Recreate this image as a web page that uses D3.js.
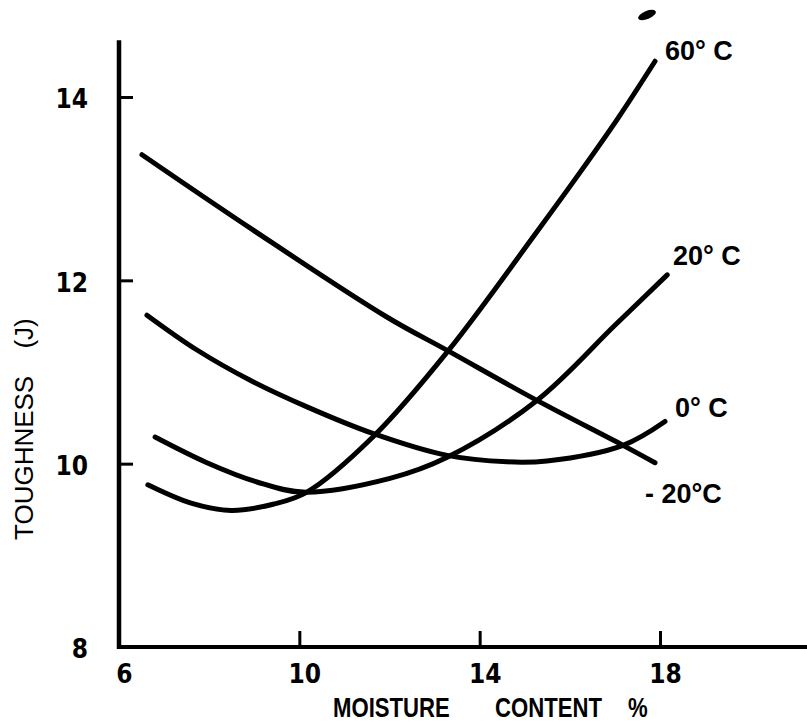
<!DOCTYPE html>
<html>
<head>
<meta charset="utf-8">
<script src="https://cdn.jsdelivr.net/npm/d3@7"></script>
<style>
  body { margin: 0; background: #fff; }
  svg { display: block; }
</style>
</head>
<body>
<div id="chart"></div>
<script>
// chart values
var xTicks = [6, 10, 14, 18];
var yTicks = [8, 10, 12, 14];

var moist60 = [6.64, 7.60, 8.49, 9.44, 10.17, 11.63, 13.30, 15.27, 16.23, 17.07, 17.89];
var tough60 = [9.77, 9.57, 9.49, 9.56, 9.69, 10.29, 11.23, 12.53, 13.18, 13.77, 14.39];

var moist20 = [6.80, 7.95, 9.06, 10.08, 12.01, 13.28, 15.27, 17.00, 18.16];
var tough20 = [10.29, 10.01, 9.80, 9.69, 9.84, 10.07, 10.69, 11.51, 12.06];

var moist0 = [6.62, 7.73, 8.91, 10.17, 11.63, 13.28, 14.61, 15.49, 17.18, 18.11];
var tough0 = [11.62, 11.24, 10.91, 10.62, 10.33, 10.09, 10.02, 10.03, 10.20, 10.46];

var moistM20 = [6.51, 8.97, 11.94, 13.30, 15.27, 17.18, 17.89];
var toughM20 = [13.37, 12.55, 11.60, 11.23, 10.69, 10.20, 10.01];

var curveLabels = ["60° C", "20° C", "0° C", "- 20°C"];
var xTitleWords = ["MOISTURE", "CONTENT", "%"];

var width = 807,
    height = 722;

var svg = d3.select("#chart")
    .append("svg")
      .attr("width", width)
      .attr("height", height);

var x = d3.scaleLinear().domain([6, 18]).range([119, 660]);
var y = d3.scaleLinear().domain([8, 14]).range([647, 97]);

var tickFont = "'Liberation Sans Narrow', 'DejaVu Sans Condensed', 'Liberation Sans', sans-serif";
var labelFont = "'Liberation Sans', Arial, sans-serif";

// axes lines (long, thick)
svg.append("line")
    .attr("x1", x(6)).attr("x2", x(6))
    .attr("y1", y(14.62)).attr("y2", y(8) + 2)
    .attr("stroke", "#000").attr("stroke-width", 4.5);

svg.append("line")
    .attr("x1", x(6) - 2).attr("x2", x(21.3))
    .attr("y1", y(8)).attr("y2", y(8))
    .attr("stroke", "#000").attr("stroke-width", 4);

// x axis ticks + labels
var xAxis = d3.axisBottom(x)
    .tickValues(xTicks)
    .tickSize(-16)
    .tickPadding(18)
    .tickFormat(d3.format("d"));

var gx = svg.append("g")
    .attr("transform", "translate(0," + y(8) + ")")
    .call(xAxis);
gx.select(".domain").remove();
gx.selectAll(".tick line").attr("stroke-width", 3).filter(d => d == 6).remove();
gx.selectAll(".tick text")
    .attr("dx", 5)
    .style("font-family", tickFont)
    .style("font-weight", "bold")
    .style("font-size", "26px")
    .attr("fill", "#000");

// y axis ticks + labels
var yAxis = d3.axisLeft(y)
    .tickValues(yTicks)
    .tickSize(-14)
    .tickPadding(31)
    .tickFormat(d3.format("d"));

var gy = svg.append("g")
    .attr("transform", "translate(" + x(6) + ",0)")
    .call(yAxis);
gy.select(".domain").remove();
gy.selectAll(".tick line").attr("stroke-width", 3).filter(d => d == 8).remove();
gy.selectAll(".tick text")
    .attr("dy", "0.42em")
    .style("font-family", tickFont)
    .style("font-weight", "bold")
    .style("font-size", "26px")
    .attr("fill", "#000");

// x title: three words, condensed
var wordX = [333, 495, 628];
svg.selectAll("text.xtitle")
  .data(xTitleWords)
  .enter()
  .append("text")
    .attr("class", "xtitle")
    .attr("transform", (d, i) => "translate(" + wordX[i] + ",717) scale(0.82,1)")
    .style("font-family", labelFont)
    .style("font-weight", "bold")
    .style("font-size", "27px")
    .text(d => d);

svg.append("text")
    .attr("transform", "translate(33,540) rotate(-90)")
    .attr("text-anchor", "start")
    .style("font-family", labelFont)
    .style("font-size", "26px")
    .style("word-spacing", "20px")
    .text("TOUGHNESS (J)");

// curves
var line = d3.line()
    .x(d => x(d[0]))
    .y(d => y(d[1]))
    .curve(d3.curveCatmullRom.alpha(0.5));

var curves = [
  d3.zip(moist60, tough60),
  d3.zip(moist20, tough20),
  d3.zip(moist0, tough0),
  d3.zip(moistM20, toughM20)
];

svg.selectAll("path.curve")
  .data(curves)
  .enter()
  .append("path")
    .attr("class", "curve")
    .attr("d", line)
    .attr("fill", "none")
    .attr("stroke", "#000")
    .attr("stroke-width", 5)
    .attr("stroke-linecap", "round");

// curve labels (left x, baseline)
var labelPos = [[665, 60], [673, 265], [675, 417], [645, 503]];
svg.selectAll("text.clabel")
  .data(curveLabels)
  .enter()
  .append("text")
    .attr("class", "clabel")
    .attr("x", (d, i) => labelPos[i][0])
    .attr("y", (d, i) => labelPos[i][1])
    .style("font-family", labelFont)
    .style("font-weight", "bold")
    .style("font-size", "27px")
    .text(d => d);

// ink blot on the scan
svg.append("ellipse")
    .attr("cx", 647).attr("cy", 15)
    .attr("rx", 9.5).attr("ry", 4)
    .attr("transform", "rotate(-22,647,15)")
    .attr("fill", "#000");
</script>
</body>
</html>
